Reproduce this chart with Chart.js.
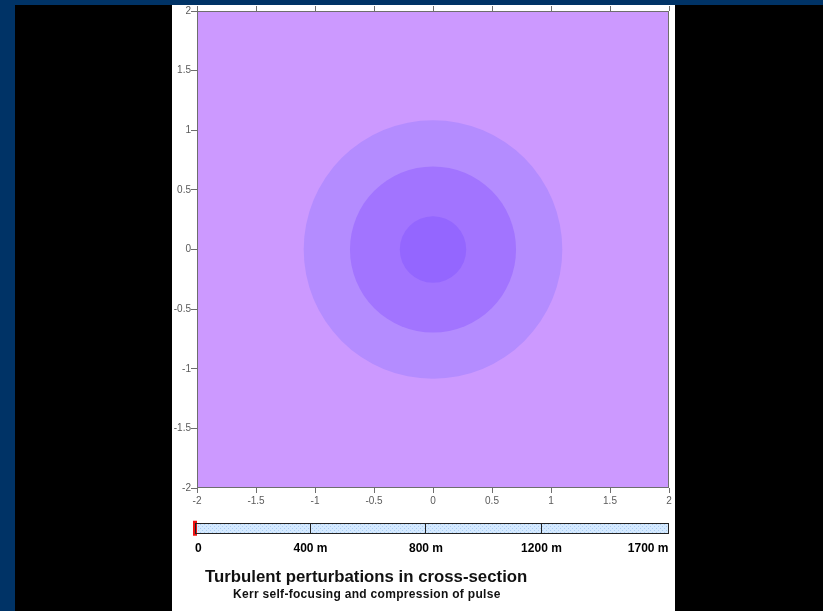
<!DOCTYPE html>
<html>
<head>
<meta charset="utf-8">
<script src="https://cdn.jsdelivr.net/npm/chart.js@4/dist/chart.umd.min.js"></script>
<style>
  html, body { margin: 0; padding: 0; width: 823px; height: 611px; overflow: hidden; background: #000; }
  body { font-family: "Liberation Sans", Arial, sans-serif; }
  canvas { display: block; }
  #topband { position: absolute; left: 0; top: 0; width: 823px; height: 5px; background: #003366; }
  #leftband { position: absolute; left: 0; top: 0; width: 15px; height: 611px; background: #003366; }
  #panel { position: absolute; left: 172px; top: 5px; width: 503px; height: 606px; background: #fff; }
  #fieldWrap { position: absolute; left: 0; top: 0; width: 503px; height: 510px; }
  #trackWrap { position: absolute; left: 0; top: 507px; width: 508px; height: 45px; }
  .title { position: absolute; left: 33px; top: 564px; font-size: 16.8px; line-height: 16px; font-weight: bold; color: #111; white-space: nowrap; }
  .subtitle { position: absolute; left: 61px; top: 583px; font-size: 12px; line-height: 12px; letter-spacing: 0.3px; font-weight: bold; color: #111; white-space: nowrap; }
</style>
</head>
<body>
<div id="topband"></div>
<div id="leftband"></div>
<div id="panel">
  <div id="fieldWrap"><canvas id="field" width="503" height="510"></canvas></div>
  <div id="trackWrap"><canvas id="track" width="508" height="45"></canvas></div>
  <div class="title">Turbulent perturbations in cross-section</div>
  <div class="subtitle">Kerr self-focusing and compression of pulse</div>
</div>
<script>
// Cross-section axes (same range on x and y)
const axisTickValues = [-2, -1.5, -1, -0.5, 0, 0.5, 1, 1.5, 2];
const axisTickLabels = ['-2', '-1.5', '-1', '-0.5', '0', '0.5', '1', '1.5', '2'];

// Intensity zones of the beam, outermost first (radius in axis units)
const zoneRadii = [1.09, 0.70, 0.28];
const zoneColors = ['#b48cff', '#a274ff', '#9466ff'];
const fieldColor = '#cc99ff';

// Propagation track: milestone positions along the bar and their labels
const trackStops = [0, 1, 2, 3, 4.1];
const trackLabels = ['0', '400 m', '800 m', '1200 m', '1700 m'];
const currentStop = 0;

const tickFont = { family: '"Liberation Sans", Arial, sans-serif', size: 10 };

const fieldBackground = {
  id: 'fieldBackground',
  beforeDraw(chart) {
    const { ctx, chartArea: a } = chart;
    ctx.save();
    ctx.fillStyle = fieldColor;
    ctx.fillRect(a.left, a.top, a.right - a.left, a.bottom - a.top);
    ctx.restore();
  },
  afterDraw(chart) {
    const { ctx, chartArea: a } = chart;
    ctx.save();
    ctx.strokeStyle = '#6e6e6e';
    ctx.lineWidth = 1;
    ctx.strokeRect(a.left + 0.5, a.top + 0.5, a.right - a.left - 1, a.bottom - a.top - 1);
    ctx.restore();
  }
};

function zoneRadiusPx(ctx) {
  const sx = ctx.chart.scales.x, sy = ctx.chart.scales.y;
  const r = zoneRadii[ctx.dataIndex];
  const rx = sx.getPixelForValue(r) - sx.getPixelForValue(0);
  const ry = sy.getPixelForValue(0) - sy.getPixelForValue(r);
  return (rx + ry) / 2;
}

function fixedTicks(scale) {
  scale.ticks = axisTickValues.map(v => ({ value: v }));
}

new Chart(document.getElementById('field'), {
  type: 'scatter',
  data: {
    datasets: [{
      data: zoneRadii.map(() => ({ x: 0, y: 0 })),
      backgroundColor: zoneColors,
      borderWidth: 0,
      pointRadius: zoneRadiusPx,
      pointHoverRadius: zoneRadiusPx
    }]
  },
  options: {
    responsive: false,
    animation: false,
    events: [],
    layout: { padding: { left: 0, right: 6, top: 0, bottom: 0 } },
    plugins: { legend: { display: false }, tooltip: { enabled: false } },
    scales: {
      x: {
        type: 'linear', position: 'bottom', min: -2, max: 2,
        afterBuildTicks: fixedTicks,
        afterFit(s) { s.height = 27; },
        border: { display: false },
        grid: { drawOnChartArea: false, drawTicks: true, tickLength: 5, color: '#6e6e6e' },
        ticks: { padding: 2, color: '#5a5a5a', font: tickFont, maxRotation: 0,
                 callback: (v, i) => axisTickLabels[i] }
      },
      x2: {
        type: 'linear', position: 'top', min: -2, max: 2,
        afterBuildTicks: fixedTicks,
        afterFit(s) { s.height = 5; },
        border: { display: false },
        grid: { drawOnChartArea: false, drawTicks: true, tickLength: 5, color: '#6e6e6e' },
        ticks: { display: false }
      },
      y: {
        type: 'linear', position: 'left', min: -2, max: 2,
        afterBuildTicks: fixedTicks,
        afterFit(s) { s.width = 25; },
        border: { display: false },
        grid: { drawOnChartArea: false, drawTicks: true, tickLength: 6, color: '#6e6e6e' },
        ticks: { padding: 0, color: '#5a5a5a', font: tickFont,
                 callback: (v, i) => axisTickLabels[i] }
      }
    }
  },
  plugins: [fieldBackground]
});

// Dotted light-blue fill for the track bar
function trackPattern() {
  const c = document.createElement('canvas');
  c.width = 4; c.height = 4;
  const g = c.getContext('2d');
  g.fillStyle = '#d4e9ff';
  g.fillRect(0, 0, 4, 4);
  g.fillStyle = '#a9cdf2';
  g.fillRect(0, 0, 1, 1);
  g.fillRect(2, 2, 1, 1);
  return g.createPattern(c, 'repeat');
}

new Chart(document.getElementById('track'), {
  type: 'bar',
  data: {
    labels: [''],
    datasets: [
      {
        type: 'scatter',
        data: [{ x: currentStop, y: 0 }],
        pointStyle: 'line',
        rotation: 90,
        pointRadius: 7.5,
        pointHoverRadius: 7.5,
        borderWidth: 4,
        borderColor: '#ee1111',
        clip: false,
        order: 0
      },
      {
        data: [[trackStops[0], trackStops[trackStops.length - 1]]],
        backgroundColor: trackPattern(),
        borderWidth: 0,
        barPercentage: 1,
        categoryPercentage: 1,
        order: 1
      }
    ]
  },
  options: {
    indexAxis: 'y',
    responsive: false,
    animation: false,
    events: [],
    layout: { padding: { left: 23, right: 7, top: 3, bottom: 0 } },
    plugins: { legend: { display: false }, tooltip: { enabled: false } },
    scales: {
      x: {
        type: 'linear', position: 'bottom', z: 1,
        min: trackStops[0], max: trackStops[trackStops.length - 1],
        afterBuildTicks(s) { s.ticks = trackStops.map(v => ({ value: v })); },
        afterFit(s) { s.height = 24; },
        border: { display: true, color: '#222', width: 1, z: 1 },
        grid: { display: true, drawOnChartArea: true, drawTicks: false, color: '#222', lineWidth: 1, z: 1 },
        ticks: { padding: 8, align: 'inner', color: '#000', maxRotation: 0,
                 font: { family: '"Liberation Sans", Arial, sans-serif', size: 12, weight: 'bold' },
                 callback: (v, i) => trackLabels[i] }
      },
      xTop: {
        type: 'linear', position: 'top', axis: 'x', z: 1,
        min: trackStops[0], max: trackStops[trackStops.length - 1],
        afterFit(s) { s.height = 0; },
        border: { display: true, color: '#222', width: 1, z: 1 },
        grid: { display: false },
        ticks: { display: false }
      },
      y: { display: false }
    }
  }
});
</script>
</body>
</html>
